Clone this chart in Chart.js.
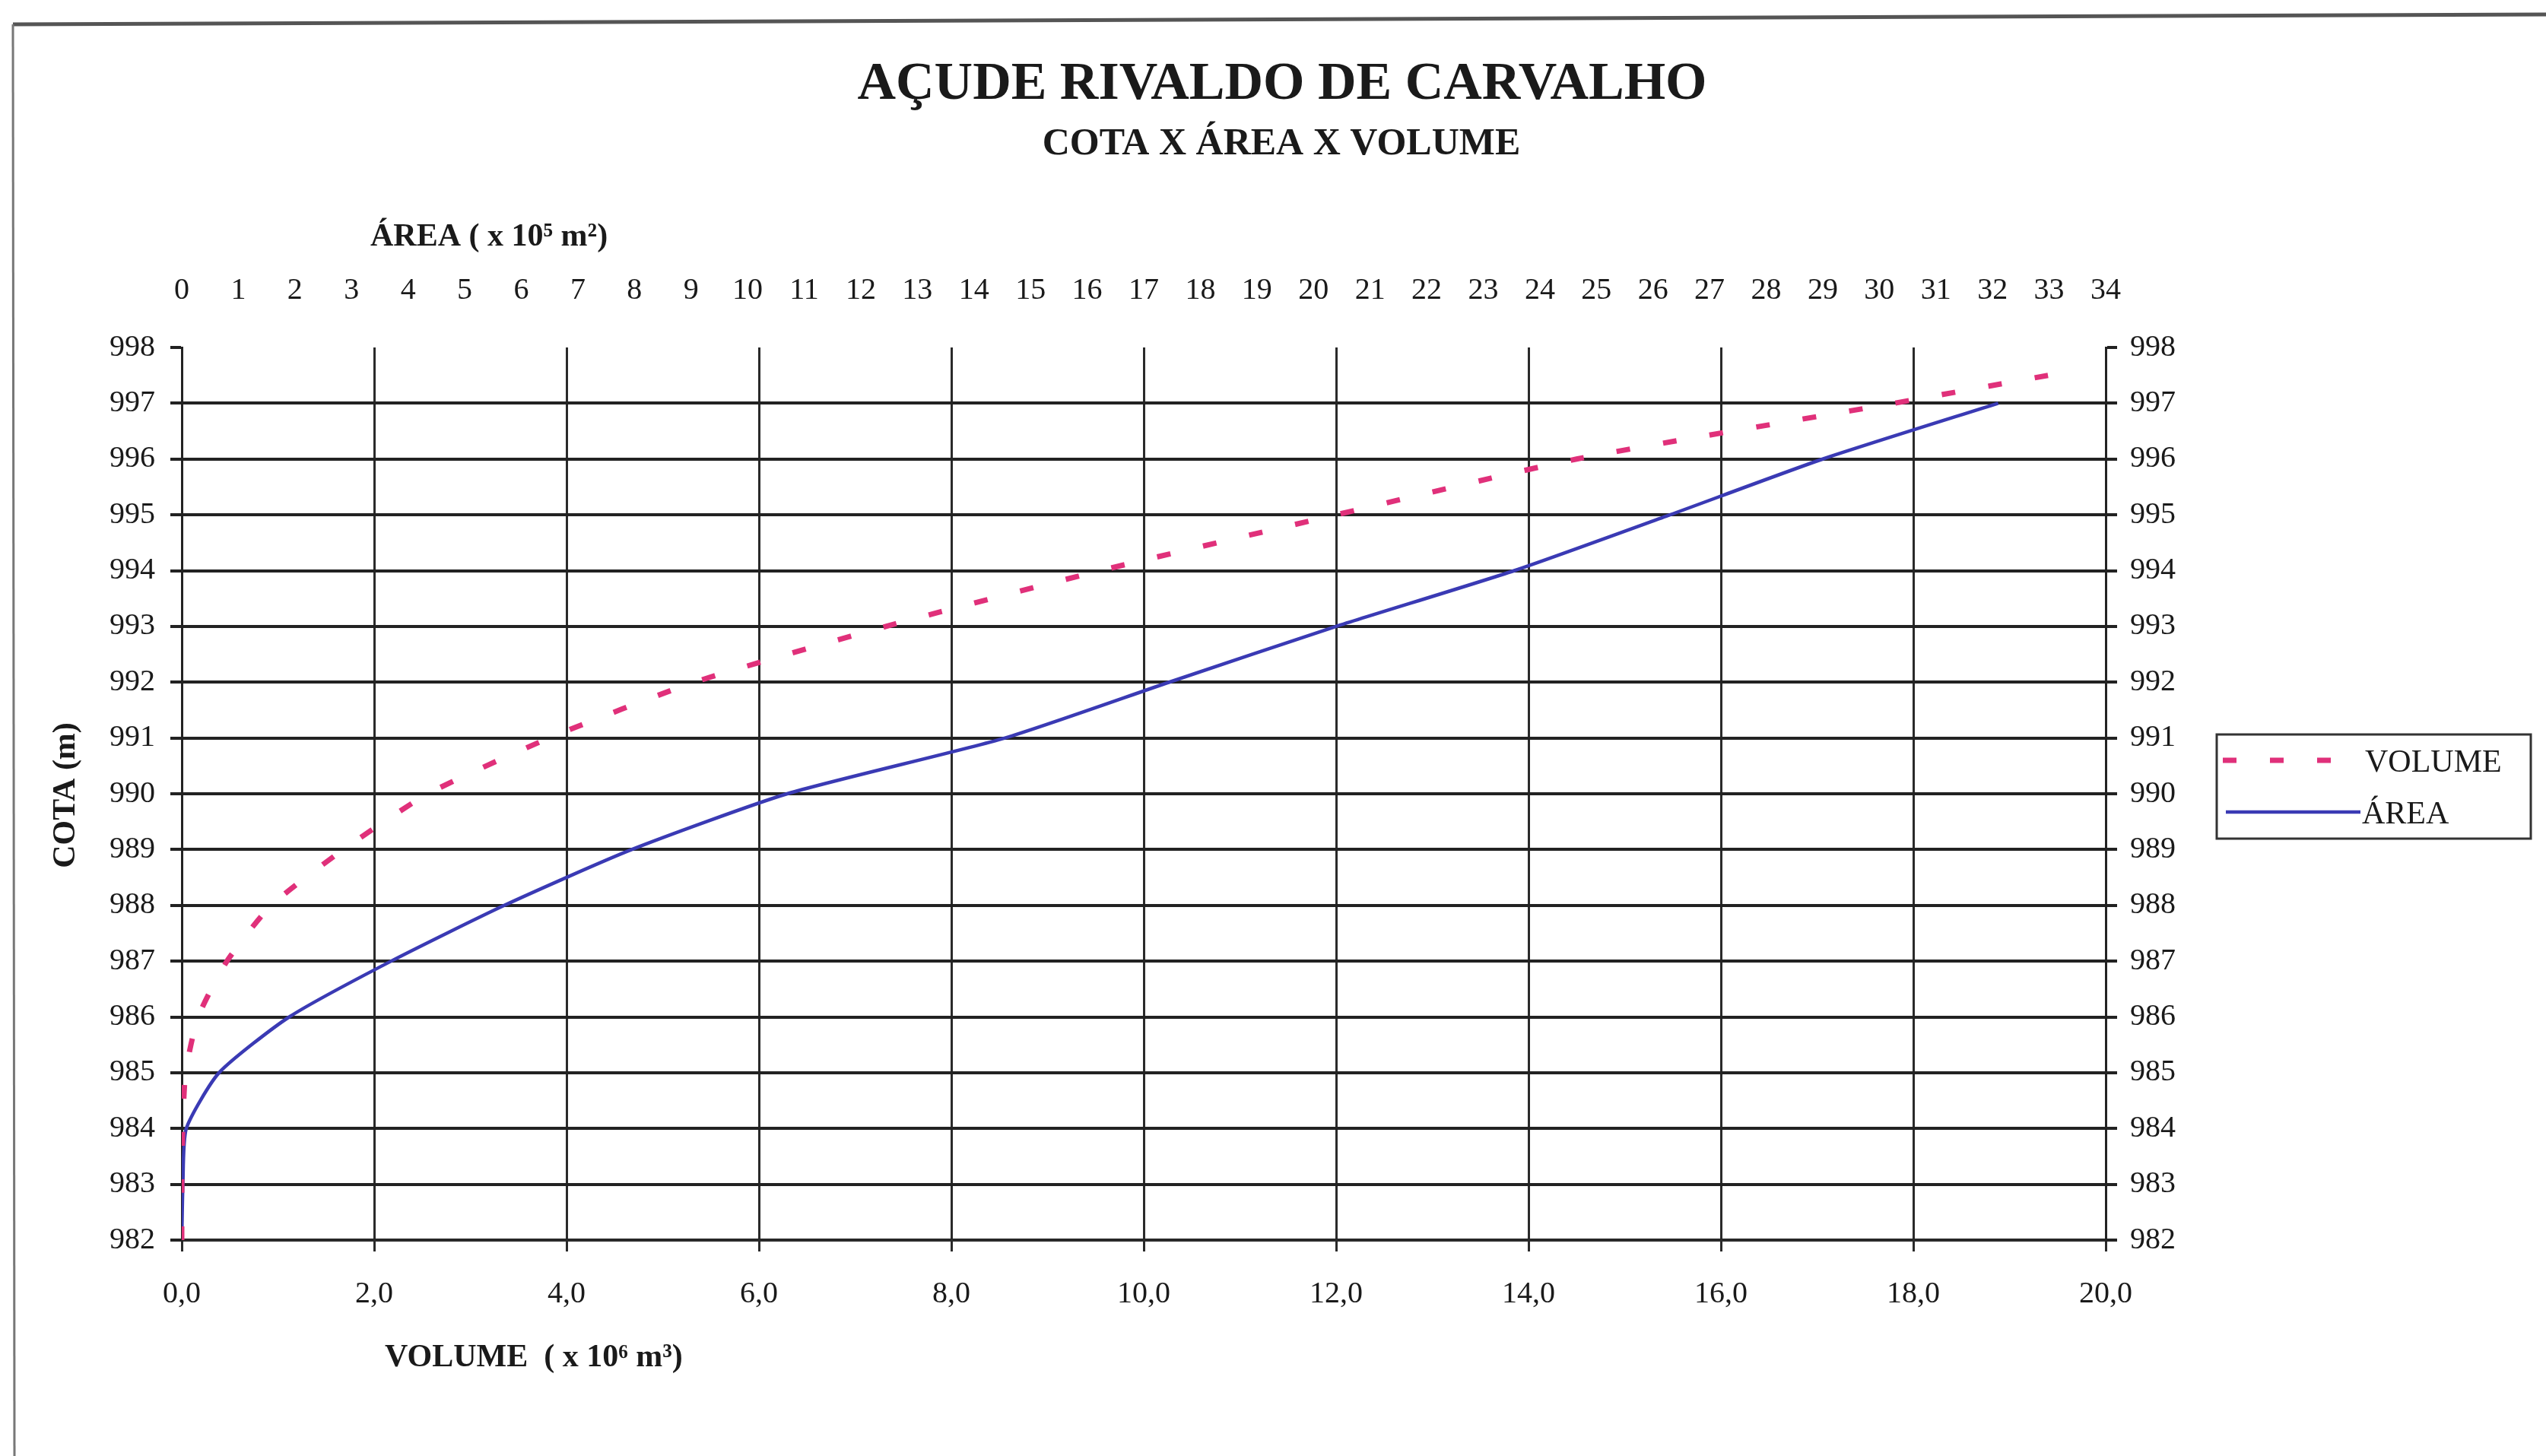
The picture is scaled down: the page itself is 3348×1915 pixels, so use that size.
<!DOCTYPE html>
<html>
<head>
<meta charset="utf-8">
<script src="https://cdn.jsdelivr.net/npm/chart.js@4.4.1/dist/chart.umd.min.js"></script>
<style>
  html, body { margin: 0; padding: 0; background: #fff; }
</style>
</head>
<body>
<canvas id="myChart" width="3348" height="1915"></canvas>
<script>
// cotas (m) and values
const cotaArea = [982, 983, 984, 985, 986, 987, 988, 989, 990, 991, 992, 993, 994, 995, 996, 997];
const area = [0, 0.02, 0.08, 0.66, 1.9, 3.7, 5.7, 7.95, 10.7, 14.55, 17.45, 20.4, 23.55, 26.3, 29.0, 32.1]; // x 10^5 m2

const cotaVolume = [982, 983, 984, 985, 986, 987, 988, 989, 990, 991, 992, 993, 994, 995, 996, 997, 997.5];
const volume = [0, 0, 0.01, 0.04, 0.17, 0.47, 0.93, 1.68, 2.56, 3.82, 5.33, 7.32, 9.55, 12.0, 14.5, 17.8, 19.4]; // x 10^6 m3

const FONT = "'Liberation Serif', 'Times New Roman', serif";
const INK = '#1a1a1a';
const PINK = '#e0307a';
const BLUE = '#3a3ab4';

// extra drawing: page frame, titles, axis titles and the boxed legend
const decor = {
  id: 'decor',
  beforeDraw(chart) {
    const ctx = chart.ctx;
    ctx.save();
    ctx.fillStyle = '#fff';
    ctx.fillRect(0, 0, chart.width, chart.height);
    ctx.strokeStyle = '#555';
    ctx.lineWidth = 5;
    ctx.beginPath();
    ctx.moveTo(17, 32);
    ctx.lineTo(3348, 19);
    ctx.stroke();
    ctx.lineWidth = 3;
    ctx.strokeStyle = '#777';
    ctx.beginPath();
    ctx.moveTo(17, 32);
    ctx.lineTo(19, 1915);
    ctx.stroke();
    ctx.restore();
  },
  afterDraw(chart) {
    const ctx = chart.ctx;
    ctx.save();
    ctx.fillStyle = INK;
    ctx.textBaseline = 'alphabetic';

    ctx.textAlign = 'center';
    ctx.font = 'bold 70px ' + FONT;
    ctx.fillText('AÇUDE RIVALDO DE CARVALHO', 1686, 130);
    ctx.font = 'bold 50px ' + FONT;
    ctx.fillText('COTA X ÁREA X VOLUME', 1685, 203);

    ctx.textAlign = 'left';
    ctx.font = 'bold 42px ' + FONT;
    ctx.fillText('ÁREA ( x 10⁵ m²)', 487, 323);
    ctx.fillText('VOLUME  ( x 10⁶ m³)', 506, 1797);

    ctx.save();
    ctx.translate(98, 1046);
    ctx.rotate(-Math.PI / 2);
    ctx.textAlign = 'center';
    ctx.fillText('COTA (m)', 0, 0);
    ctx.restore();

    // legend
    const ds = chart.data.datasets;
    ctx.strokeStyle = '#333';
    ctx.lineWidth = 3;
    ctx.strokeRect(2915, 966, 413, 137);
    ctx.font = '42px ' + FONT;
    ctx.textAlign = 'left';

    ctx.strokeStyle = ds[0].borderColor;
    ctx.lineWidth = ds[0].borderWidth;
    ctx.setLineDash(ds[0].borderDash);
    ctx.beginPath();
    ctx.moveTo(2923, 1000);
    ctx.lineTo(3100, 1000);
    ctx.stroke();
    ctx.setLineDash([]);
    ctx.fillText(ds[0].label, 3110, 1015);

    ctx.strokeStyle = ds[1].borderColor;
    ctx.lineWidth = ds[1].borderWidth;
    ctx.beginPath();
    ctx.moveTo(2927, 1068);
    ctx.lineTo(3104, 1068);
    ctx.stroke();
    ctx.fillText(ds[1].label, 3106, 1083);
    ctx.restore();
  }
};

const ctx = document.getElementById('myChart').getContext('2d');

new Chart(ctx, {
  type: 'scatter',
  data: {
    datasets: [
      {
        label: 'VOLUME',
        data: cotaVolume.map((c, i) => ({ x: volume[i], y: c })),
        xAxisID: 'x',
        yAxisID: 'y',
        showLine: true,
        borderColor: PINK,
        borderWidth: 7,
        borderDash: [18, 44],
        pointRadius: 0,
        tension: 0.2,
      },
      {
        label: 'ÁREA',
        data: cotaArea.map((c, i) => ({ x: area[i], y: c })),
        xAxisID: 'x2',
        yAxisID: 'y',
        showLine: true,
        borderColor: BLUE,
        borderWidth: 4.5,
        pointRadius: 0,
        tension: 0.2,
      },
    ],
  },
  options: {
    responsive: false,
    animation: false,
    layout: { padding: 0 },
    plugins: {
      legend: { display: false },
      tooltip: { enabled: false },
    },
    scales: {
      x: {
        type: 'linear',
        position: 'bottom',
        min: 0,
        max: 20,
        afterFit: (s) => { s.height = 284; },
        ticks: {
          stepSize: 2,
          padding: 32,
          color: INK,
          font: { family: FONT, size: 40 },
          callback: (v) => v.toFixed(1).replace('.', ','),
        },
        grid: { color: '#2a2a2a', lineWidth: 3, tickLength: 15 },
        border: { color: '#2a2a2a', width: 3 },
      },
      x2: {
        type: 'linear',
        position: 'top',
        min: 0,
        max: 34,
        afterFit: (s) => { s.height = 457; },
        ticks: {
          stepSize: 1,
          autoSkip: false,
          maxRotation: 0,
          padding: 51,
          color: INK,
          font: { family: FONT, size: 40 },
        },
        grid: { display: false, drawTicks: false },
        border: { display: false },
      },
      y: {
        type: 'linear',
        position: 'left',
        min: 982,
        max: 998,
        afterFit: (s) => { s.width = 239; },
        ticks: {
          stepSize: 1,
          padding: 20,
          color: INK,
          font: { family: FONT, size: 40 },
        },
        grid: {
          color: (c) => (c.tick && c.tick.value === 998 ? 'rgba(0,0,0,0)' : '#222'),
          tickColor: '#222',
          lineWidth: 4,
          tickLength: 15,
        },
        border: { color: '#222', width: 3 },
      },
      y2: {
        type: 'linear',
        position: 'right',
        min: 982,
        max: 998,
        afterFit: (s) => { s.width = 579; },
        ticks: {
          stepSize: 1,
          padding: 17,
          color: INK,
          font: { family: FONT, size: 40 },
        },
        grid: { drawOnChartArea: false, tickColor: '#222', lineWidth: 4, tickLength: 15 },
        border: { color: '#222', width: 3 },
      },
    },
  },
  plugins: [decor],
});
</script>
</body>
</html>
